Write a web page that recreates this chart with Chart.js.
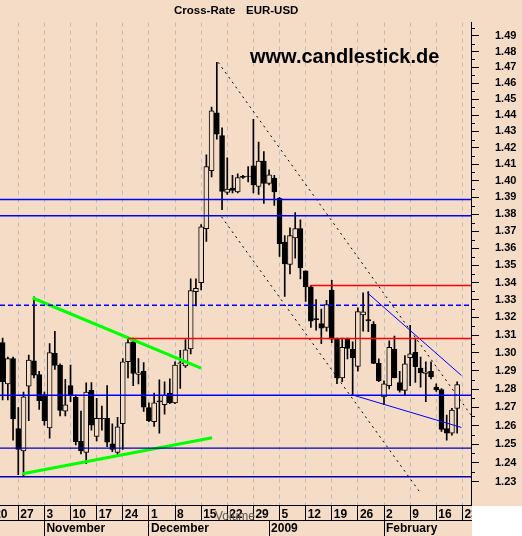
<!DOCTYPE html>
<html>
<head>
  <meta charset="utf-8">
  <title>Cross-Rate EUR-USD</title>
  <script src="https://cdn.jsdelivr.net/npm/chart.js@4/dist/chart.umd.min.js"></script>
  <style>
    html, body {
      margin: 0;
      padding: 0;
      background: #f5dcc6;
    }
  </style>
</head>
<body>
  <canvas id="chart" width="522" height="536"></canvas>
  <script>
    // trading day index, 0 = Monday 20 Oct 2008, 5 days per week
    var days = [2, 3, 4, 5, 6, 7, 8, 9, 10, 11, 12, 13, 14, 15, 16, 17, 18, 19, 20, 21,
      22, 23, 24, 25, 26, 27, 28, 29, 30, 31, 32, 33, 34, 35, 36, 37, 38, 39, 40, 41,
      42, 43, 44, 45, 46, 47, 48, 49, 50, 51, 52, 53, 54, 55, 56, 57, 58, 59, 60, 61,
      62, 63, 64, 65, 66, 67, 68, 69, 70, 71, 72, 73, 74, 75, 76, 77, 78, 79, 80, 81,
      82, 83, 84, 85, 86, 87, 88, 89];

    var opens = [1.3058, 1.2828, 1.2968, 1.2584, 1.2464, 1.2815, 1.2956, 1.2880, 1.2770, 1.2588,
      1.2998, 1.2933, 1.2679, 1.2819, 1.2754, 1.2515, 1.2455, 1.2792, 1.2541, 1.2640,
      1.2640, 1.2501, 1.2455, 1.2610, 1.2951, 1.3063, 1.2880, 1.2898, 1.2698, 1.2621,
      1.2735, 1.2714, 1.2777, 1.2723, 1.2940, 1.2928, 1.3022, 1.3347, 1.3399, 1.3714,
      1.4060, 1.4415, 1.4274, 1.3930, 1.3955, 1.3933, 1.4026, 1.4027, 1.4089, 1.3965,
      1.4118, 1.3983, 1.4016, 1.3894, 1.3635, 1.3504, 1.3660, 1.3714, 1.3467, 1.3375,
      1.3193, 1.3166, 1.3144, 1.3357, 1.3078, 1.2861, 1.3078, 1.3020, 1.2925, 1.3215,
      1.3188, 1.3161, 1.2942, 1.2757, 1.2819, 1.3022, 1.2836, 1.2792, 1.2974, 1.3004,
      1.2916, 1.2886, 1.2898, 1.2811, 1.2797, 1.2584, 1.2559, 1.2694];

    var highs = [1.3084, 1.2977, 1.2977, 1.2698, 1.2783, 1.2988, 1.3318, 1.2898, 1.2783, 1.3052,
      1.3121, 1.2940, 1.2854, 1.2933, 1.2766, 1.2679, 1.2834, 1.2836, 1.2749, 1.2706,
      1.2819, 1.2610, 1.2645, 1.2968, 1.3084, 1.3084, 1.2968, 1.2946, 1.2724, 1.2777,
      1.2851, 1.2840, 1.2856, 1.2951, 1.3015, 1.3075, 1.3421, 1.3421, 1.3738, 1.4157,
      1.4451, 1.4731, 1.4322, 1.4138, 1.4032, 1.4042, 1.4032, 1.4085, 1.4375, 1.4235,
      1.4176, 1.4066, 1.4032, 1.3900, 1.3673, 1.3719, 1.3809, 1.3766, 1.3467, 1.3379,
      1.3302, 1.3247, 1.3298, 1.3412, 1.3084, 1.3084, 1.3084, 1.3063, 1.3255, 1.3341,
      1.3348, 1.3177, 1.2967, 1.2845, 1.3068, 1.3095, 1.2897, 1.2985, 1.3155, 1.3084,
      1.2977, 1.2951, 1.2951, 1.2829, 1.2803, 1.2657, 1.2694, 1.2840];

    var lows = [1.2740, 1.2740, 1.2522, 1.2337, 1.2328, 1.2627, 1.2861, 1.2688, 1.2602, 1.2532,
      1.2908, 1.2653, 1.2653, 1.2731, 1.2496, 1.2447, 1.2396, 1.2576, 1.2517, 1.2576,
      1.2486, 1.2460, 1.2435, 1.2472, 1.2861, 1.2819, 1.2828, 1.2677, 1.2621, 1.2595,
      1.2559, 1.2662, 1.2719, 1.2719, 1.2803, 1.2920, 1.2995, 1.3265, 1.3357, 1.3639,
      1.4022, 1.4252, 1.3827, 1.3917, 1.3927, 1.3927, 1.4014, 1.3993, 1.3927, 1.3917,
      1.3864, 1.3974, 1.3851, 1.3551, 1.3320, 1.3449, 1.3541, 1.3421, 1.3292, 1.3143,
      1.3128, 1.3052, 1.3122, 1.3058, 1.2829, 1.2840, 1.2967, 1.2766, 1.2898, 1.3122,
      1.3120, 1.2940, 1.2840, 1.2714, 1.2801, 1.2861, 1.2783, 1.2766, 1.2819, 1.2836,
      1.2810, 1.2731, 1.2856, 1.2787, 1.2569, 1.2522, 1.2548, 1.2559];

    var closes = [1.2840, 1.2968, 1.2636, 1.2472, 1.2757, 1.2960, 1.2877, 1.2736, 1.2627, 1.3002,
      1.2931, 1.2683, 1.2713, 1.2766, 1.2513, 1.2464, 1.2783, 1.2602, 1.2640, 1.2636,
      1.2510, 1.2472, 1.2593, 1.2951, 1.3058, 1.2886, 1.2889, 1.2700, 1.2627, 1.2724,
      1.2730, 1.2766, 1.2724, 1.2933, 1.2945, 1.3018, 1.3353, 1.3366, 1.3725, 1.4085,
      1.4427, 1.4283, 1.3936, 1.3950, 1.3942, 1.4018, 1.4020, 1.4026, 1.3974, 1.4118,
      1.3983, 1.4035, 1.3933, 1.3626, 1.3507, 1.3673, 1.3714, 1.3485, 1.3375, 1.3179,
      1.3188, 1.3139, 1.3274, 1.3078, 1.2861, 1.3031, 1.3025, 1.2972, 1.3233, 1.3232,
      1.3180, 1.2942, 1.2845, 1.2828, 1.3031, 1.2862, 1.2792, 1.2939, 1.2995, 1.2924,
      1.2889, 1.2894, 1.2867, 1.2795, 1.2579, 1.2559, 1.2684, 1.2824];

    // axes
    var weekTicks = [0, 5, 10, 15, 20, 25, 30, 35, 40, 45, 50, 55, 60, 65, 70, 75, 80, 85, 90];
    var weekLabels = ['20', '27', '3', '10', '17', '24', '1', '8', '15', '22', '29', '5', '12', '19', '26', '2', '9', '16', '23'];
    var monthTicks = [10, 30, 53, 75];
    var monthLabels = ['November', 'December', '2009', 'February'];
    var priceTicks = [1.23, 1.24, 1.25, 1.26, 1.27, 1.28, 1.29, 1.30, 1.31, 1.32, 1.33, 1.34, 1.35,
      1.36, 1.37, 1.38, 1.39, 1.40, 1.41, 1.42, 1.43, 1.44, 1.45, 1.46, 1.47, 1.48, 1.49];

    // drawn lines (day index, price)
    var blueLevels = [1.3887, 1.3790, 1.2765];
    var navyLevels = [1.2479, 1.2326];
    var dashedLevel = 1.3269;
    var redLevels = [1.3383, 1.3081];
    var redStarts = [60.8, 26.0];
    var greenTop = [{x: 7.75, y: 1.3311}, {x: 39.95, y: 1.2915}];
    var greenBottom = [{x: 5.84, y: 1.2342}, {x: 42.1, y: 1.2534}];
    var wedgeTop = [{x: 71.76, y: 1.3342}, {x: 89.81, y: 1.2875}];
    var wedgeBottom = [{x: 68.77, y: 1.2769}, {x: 89.81, y: 1.2590}];
    var channelTop = [{x: 43.26, y: 1.4731}, {x: 91.6, y: 1.2659}];
    var channelBottom = [{x: 43.9, y: 1.3784}, {x: 82.03, y: 1.2238}];

    var xMin = 1.5, xMax = 91.65;
    var paper = '#f5dcc6';

    function levelLine(level, from, color, width, dash) {
      return {
        type: 'line',
        data: [{x: from, y: level}, {x: xMax, y: level}],
        borderColor: color,
        borderWidth: width,
        borderDash: dash || [],
        pointRadius: 0,
        fill: false,
        order: 0,
        xAxisID: 'x',
        yAxisID: 'y'
      };
    }

    function trendLine(points, color, width, dash) {
      return {
        type: 'line',
        data: points,
        borderColor: color,
        borderWidth: width,
        borderDash: dash || [],
        pointRadius: 0,
        fill: false,
        order: 0,
        xAxisID: 'x',
        yAxisID: 'y'
      };
    }

    var datasets = [];

    // wicks
    datasets.push({
      type: 'bar',
      data: days.map(function(d, k) { return {x: d, y: [lows[k], highs[k]]}; }),
      backgroundColor: '#000',
      borderWidth: 0,
      barThickness: 1,
      grouped: false,
      order: 2,
      xAxisID: 'x',
      yAxisID: 'y'
    });

    // bodies, up days hollow
    datasets.push({
      type: 'bar',
      data: days.map(function(d, k) { return {x: d, y: [opens[k], closes[k]]}; }),
      backgroundColor: days.map(function(d, k) { return closes[k] >= opens[k] ? paper : '#000'; }),
      borderColor: '#000',
      borderWidth: 1,
      borderSkipped: false,
      barThickness: 5,
      grouped: false,
      order: 1,
      xAxisID: 'x',
      yAxisID: 'y'
    });

    blueLevels.forEach(function(v) { datasets.push(levelLine(v, xMin, '#0000ff', 1.5)); });
    navyLevels.forEach(function(v) { datasets.push(levelLine(v, xMin, '#0000b4', 1.3)); });
    datasets.push(levelLine(dashedLevel, xMin, '#0000ff', 1.5, [5, 3]));
    redLevels.forEach(function(v, k) { datasets.push(levelLine(v, redStarts[k], '#ff0000', 1.5)); });
    datasets.push(trendLine(greenTop, '#00ff00', 3));
    datasets.push(trendLine(greenBottom, '#00ff00', 3));
    datasets.push(trendLine(wedgeTop, '#0000ff', 1));
    datasets.push(trendLine(wedgeBottom, '#0000ff', 1));
    datasets.push(trendLine(channelTop, '#000', 1, [2, 4]));
    datasets.push(trendLine(channelBottom, '#000', 1, [2, 4]));

    var decor = {
      id: 'decor',
      beforeDraw: function(chart) {
        var ctx = chart.ctx;
        ctx.save();
        ctx.fillStyle = paper;
        ctx.fillRect(0, 0, chart.width, chart.height);
        ctx.restore();
      },
      afterDraw: function(chart) {
        var ctx = chart.ctx;
        var area = chart.chartArea;
        var y = chart.scales.y;
        ctx.save();

        // short ticks between the price labels
        ctx.strokeStyle = '#000';
        ctx.lineWidth = 1;
        for (var i = 0; i < priceTicks.length; i++) {
          var half = priceTicks[i] + 0.005;
          var py = Math.round(y.getPixelForValue(half)) + 0.5;
          ctx.beginPath();
          ctx.moveTo(area.right, py);
          ctx.lineTo(area.right + 4, py);
          ctx.stroke();
        }

        // corner under the price axis
        ctx.fillStyle = '#fff';
        ctx.fillRect(area.right + 1, area.bottom + 1, chart.width, chart.height);

        ctx.fillStyle = '#000';
        ctx.textBaseline = 'middle';
        ctx.font = 'bold 11.5px Arial';
        ctx.fillText('Cross-Rate', 174, 11);
        ctx.fillText('EUR-USD', 246, 11);

        ctx.textBaseline = 'alphabetic';
        ctx.font = 'bold 20px Arial';
        ctx.fillText('www.candlestick.de', 250, 63);

        ctx.fillStyle = '#555';
        ctx.font = '12px Arial';
        ctx.fillText('Volume', 215, 520);
        ctx.restore();
      }
    };

    var tickFont = {family: 'Arial', size: 12, weight: 'bold'};

    new Chart(document.getElementById('chart'), {
      type: 'bar',
      data: {datasets: datasets},
      plugins: [decor],
      options: {
        responsive: false,
        animation: false,
        events: [],
        layout: {padding: 0},
        plugins: {
          legend: {display: false},
          tooltip: {enabled: false},
          title: {display: false}
        },
        scales: {
          x: {
            type: 'linear',
            position: 'bottom',
            weight: 1,
            min: xMin,
            max: xMax,
            offset: false,
            afterBuildTicks: function(s) { s.ticks = weekTicks.map(function(v) { return {value: v}; }); },
            afterFit: function(s) { s.height = 15; },
            grid: {
              color: '#bdbdbd',
              lineWidth: 1,
              offset: false,
              drawOnChartArea: true,
              tickLength: 15,
              tickColor: '#000',
              tickWidth: 1
            },
            border: {display: true, color: '#000', width: 1, dash: [4, 4]},
            ticks: {
              autoSkip: false,
              maxRotation: 0,
              minRotation: 0,
              align: 'start',
              padding: -13,
              labelOffset: 2,
              color: '#000',
              font: tickFont,
              callback: function(v, i) { return weekLabels[i]; }
            }
          },
          x2: {
            type: 'linear',
            axis: 'x',
            position: 'bottom',
            weight: 2,
            min: xMin,
            max: xMax,
            offset: false,
            afterBuildTicks: function(s) { s.ticks = monthTicks.map(function(v) { return {value: v}; }); },
            afterFit: function(s) { s.height = 16; },
            grid: {
              drawOnChartArea: false,
              offset: false,
              tickLength: 16,
              tickColor: '#000',
              color: '#000'
            },
            border: {display: true, color: '#000', width: 1},
            ticks: {
              autoSkip: false,
              maxRotation: 0,
              minRotation: 0,
              align: 'start',
              padding: -15,
              labelOffset: 2,
              color: '#000',
              font: tickFont,
              callback: function(v, i) { return monthLabels[i]; }
            }
          },
          y: {
            type: 'logarithmic',
            position: 'right',
            min: 1.2177,
            max: 1.4985,
            beginAtZero: false,
            afterBuildTicks: function(s) { s.ticks = priceTicks.map(function(v) { return {value: v}; }); },
            afterFit: function(s) { s.width = 51; },
            grid: {
              drawOnChartArea: false,
              tickLength: 8,
              tickColor: '#000'
            },
            border: {display: true, color: '#000', width: 1},
            ticks: {
              autoSkip: false,
              padding: 16,
              color: '#000',
              font: {family: 'Arial', size: 11, weight: 'bold'},
              callback: function(v) { return Number(v).toFixed(2); }
            }
          }
        }
      }
    });
  </script>
</body>
</html>
